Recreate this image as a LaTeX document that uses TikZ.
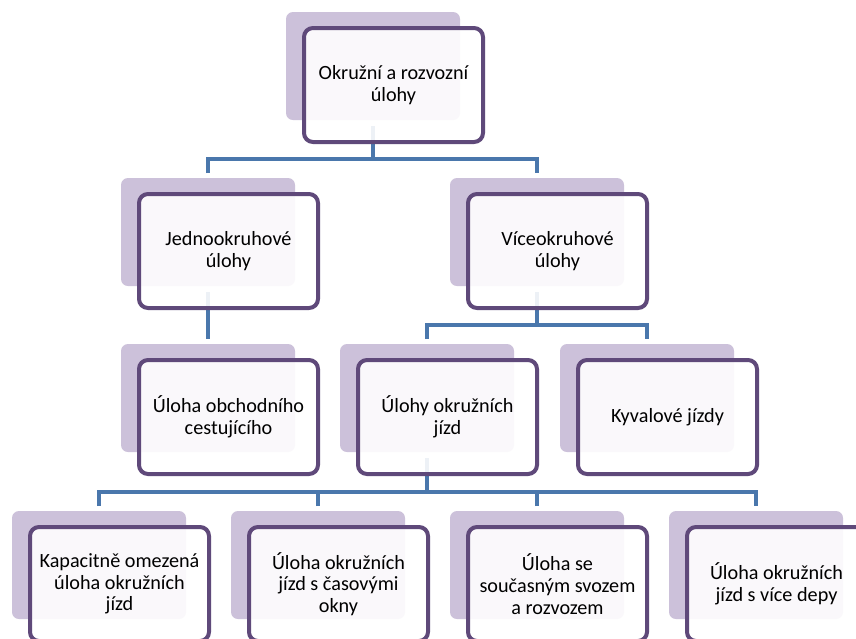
\documentclass[tikz,border=0pt]{standalone}
\usepackage{fontspec}
\setmainfont{Carlito}
\usetikzlibrary{calc}
\definecolor{boxline}{HTML}{5F497A}
\definecolor{shadowfill}{HTML}{CCC1DA}
\definecolor{connblue}{HTML}{4A77AC}
\tikzset{
  shadowbox/.style={fill=shadowfill, draw=none, rounded corners=7pt,
    minimum width=174pt, minimum height=108pt, inner sep=0pt, outer sep=0pt, anchor=north west},
  frontbox/.style={fill=white, fill opacity=0.9, text opacity=1, draw=boxline, draw opacity=1,
    line width=4pt, rounded corners=9pt, minimum width=179pt, minimum height=114pt,
    inner sep=0pt, outer sep=0pt, anchor=north west, align=center,
    font=\fontsize{20.2}{21.7}\selectfont, text=black},
  conn/.style={draw=connblue, line width=4pt, line cap=butt, line join=miter}
}
\begin{document}
\begin{tikzpicture}[x=1pt,y=-1pt]
\useasboundingbox (0,0) rectangle (856,638);
\clip (0,0) rectangle (856,638);
\fill[white] (0,0) rectangle (856,638);
% shadows
\node[shadowbox] (top-s) at (286,12) {};
\node[shadowbox] (jed-s) at (121,178) {};
\node[shadowbox] (vic-s) at (450,178) {};
\node[shadowbox] (obc-s) at (121,344) {};
\node[shadowbox] (ulo-s) at (340,344) {};
\node[shadowbox] (kyv-s) at (560,344) {};
\node[shadowbox] (kap-s) at (12,511) {};
\node[shadowbox] (okn-s) at (231,511) {};
\node[shadowbox] (sou-s) at (450,511) {};
\node[shadowbox] (dep-s) at (669,511) {};
% connectors: top -> row 2
\coordinate (b1l) at ($(jed-s.north)+(0,-19.5)$);
\coordinate (b1r) at ($(vic-s.north)+(0,-19.5)$);
\draw[conn] ($(jed-s.north)+(0,-5)$) -- (b1l) -- (b1r) -- ($(vic-s.north)+(0,-5)$);
\draw[conn] ($(top-s.south)+(0,6)$) -- (top-s.south |- b1l);
% jed -> obc
\draw[conn] ($(jed-s.south)+(0,6)$) -- ($(obc-s.north)+(0,-5)$);
% vic -> ulo, kyv
\coordinate (b2l) at ($(ulo-s.north)+(0,-19.5)$);
\coordinate (b2r) at ($(kyv-s.north)+(0,-19.5)$);
\draw[conn] ($(ulo-s.north)+(0,-5)$) -- (b2l) -- (b2r) -- ($(kyv-s.north)+(0,-5)$);
\draw[conn] ($(vic-s.south)+(0,6)$) -- (vic-s.south |- b2l);
% ulo -> bottom row
\coordinate (b3l) at ($(kap-s.north)+(0,-19.5)$);
\coordinate (b3r) at ($(dep-s.north)+(0,-19.5)$);
\draw[conn] ($(kap-s.north)+(0,-5)$) -- (b3l) -- (b3r) -- ($(dep-s.north)+(0,-5)$);
\draw[conn] ($(okn-s.north)+(0,-5)$) -- (okn-s.north |- b3l);
\draw[conn] ($(sou-s.north)+(0,-5)$) -- (sou-s.north |- b3l);
\draw[conn] ($(ulo-s.south)+(0,6)$) -- (ulo-s.south |- b3l);
% front boxes
\node[frontbox] (top) at (304,28) {Okružní a rozvozní\\úlohy};
\node[frontbox] (jed) at (139,194) {Jednookruhové\\úlohy};
\node[frontbox] (vic) at (468,194) {Víceokruhové\\úlohy};
\node[frontbox] (obc) at (139,360) {Úloha obchodního\\cestujícího};
\node[frontbox] (ulo) at (358,360) {Úlohy okružních\\jízd};
\node[frontbox] (kyv) at (578,360) {Kyvalové jízdy};
\node[frontbox] (kap) at (30,527) {Kapacitně omezená\\úloha okružních\\jízd};
\node[frontbox] (okn) at (249,527) {Úloha okružních\\jízd s časovými\\okny};
\node[frontbox] (sou) at (468,527) {Úloha se\\současným svozem\\a rozvozem};
\node[frontbox] (dep) at (687,527) {Úloha okružních\\jízd s více depy};
\end{tikzpicture}
\end{document}
